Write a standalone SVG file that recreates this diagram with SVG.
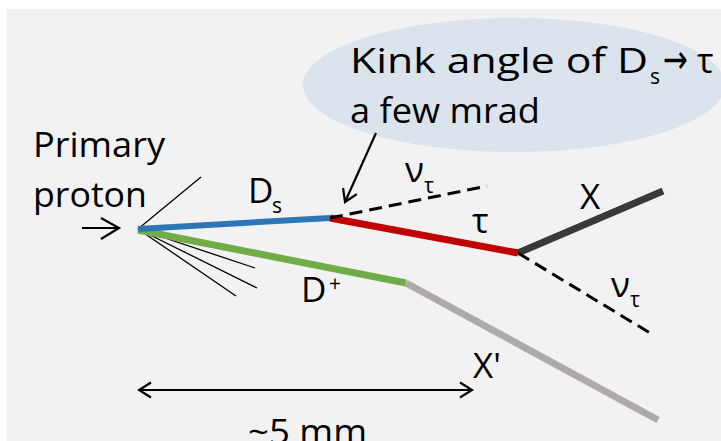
<svg xmlns="http://www.w3.org/2000/svg" width="721" height="441" viewBox="0 0 721 441">
<style>
.t{font-family:"Open Sans","DejaVu Sans",sans-serif;font-size:35px;fill:#000}
.sub{font-family:"Open Sans","DejaVu Sans",sans-serif;font-size:21px;fill:#000}
.thin{stroke:#000;stroke-width:1.3;fill:none}
.dash{stroke:#000;stroke-width:3;stroke-dasharray:13 7;fill:none}
.trk{fill:none;stroke-linecap:butt}
.arr{stroke:#000;stroke-width:2.2;fill:none}
</style>
<defs>
<marker id="head" markerUnits="userSpaceOnUse" markerWidth="18" markerHeight="18" viewBox="0 0 18 18" refX="16" refY="9" orient="auto-start-reverse">
<path d="M4,1.5 L16,9 L4,16.5" fill="none" stroke="#000" stroke-width="2.2"/>
</marker>
</defs>
<rect x="0" y="0" width="721" height="441" fill="#ffffff"/>
<rect x="6" y="9" width="715" height="432" fill="#f2f2f2"/>

<g id="callout">
<ellipse cx="514" cy="85" rx="211" ry="67" fill="#dbe4ed"/>
<text class="t" x="350" y="73" textLength="298" lengthAdjust="spacingAndGlyphs">Kink angle of D</text>
<text class="sub" x="650" y="84">s</text>
<text class="t" x="663" y="73" style="font-size:40px" textLength="25" lengthAdjust="spacingAndGlyphs">→</text>
<text class="t" x="697" y="73">τ</text>
<text class="t" x="350" y="123" textLength="190" lengthAdjust="spacingAndGlyphs">a few mrad</text>
</g>

<g id="proton">
<text class="t" x="33" y="157" textLength="132" lengthAdjust="spacingAndGlyphs">Primary</text>
<text class="t" x="33" y="207" textLength="114" lengthAdjust="spacingAndGlyphs">proton</text>
</g>

<g id="connectors">
<path class="arr" d="M82,228 H118 M101,218 L119,228 L101,239"/>
<line class="thin" x1="138" y1="229" x2="201" y2="177"/>
<line class="thin" x1="138" y1="229" x2="255" y2="268"/>
<line class="thin" x1="138" y1="229" x2="257" y2="288"/>
<line class="thin" x1="138" y1="229" x2="236" y2="296"/>
<line class="trk" x1="138" y1="230" x2="406" y2="283" stroke="#70ad47" stroke-width="7"/>
<line class="trk" x1="406" y1="283" x2="658" y2="420" stroke="#aeaaaa" stroke-width="7"/>
<line class="trk" x1="138" y1="229" x2="330" y2="218" stroke="#2e75b6" stroke-width="6"/>
<line class="trk" x1="330" y1="218" x2="518" y2="253" stroke="#c00000" stroke-width="7"/>
<line class="trk" x1="518" y1="253" x2="663" y2="191" stroke="#3b3838" stroke-width="7"/>
<line class="dash" x1="330" y1="218" x2="487" y2="186"/>
<line class="dash" x1="518" y1="253" x2="650" y2="333"/>
<line class="arr" x1="376" y1="133" x2="345" y2="202" marker-end="url(#head)"/>
<line class="arr" x1="139" y1="390" x2="472" y2="390" marker-start="url(#head)" marker-end="url(#head)"/>
</g>

<g id="labels">
<text class="t" x="248" y="203">D</text>
<text class="sub" x="272" y="213">s</text>
<text class="t" x="405" y="182">ν</text>
<text class="sub" x="424" y="193">τ</text>
<text class="t" x="472" y="233">τ</text>
<text class="t" x="580" y="209">X</text>
<text class="t" x="611" y="297">ν</text>
<text class="sub" x="630" y="307">τ</text>
<text class="t" x="301" y="302">D</text>
<text class="sub" x="329" y="291">+</text>
<text class="t" x="473" y="378">X'</text>
<text class="t" x="248" y="444" textLength="119" lengthAdjust="spacingAndGlyphs">~5 mm</text>
</g>
</svg>
